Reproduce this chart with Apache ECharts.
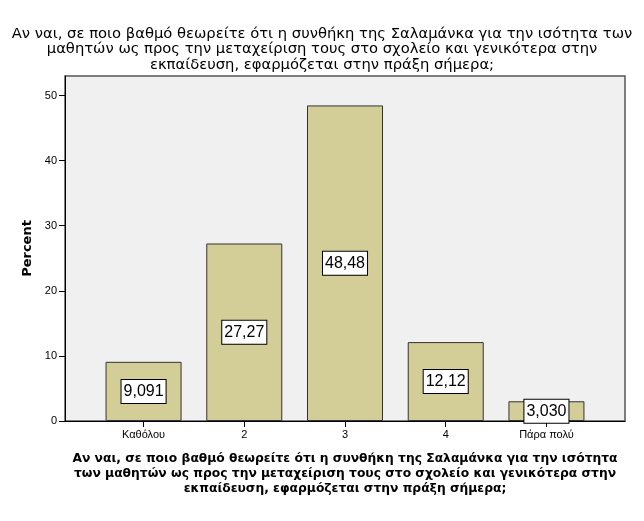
<!DOCTYPE html>
<html>
<head>
<meta charset="utf-8">
<script src="https://cdn.jsdelivr.net/npm/echarts@6/dist/echarts.min.js"></script>
<style>html,body{margin:0;padding:0;background:#fff}#c{width:644px;height:521px}</style>
</head>
<body>
<div id="c"></div>
<script>
var titleText = 'Αν ναι, σε ποιο βαθμό θεωρείτε ότι η συνθήκη της Σαλαμάνκα για την ισότητα των\nμαθητών ως προς την μεταχείριση τους στο σχολείο και γενικότερα στην\nεκπαίδευση, εφαρμόζεται στην πράξη σήμερα;';
var xAxisTitle = 'Αν ναι, σε ποιο βαθμό θεωρείτε ότι η συνθήκη της Σαλαμάνκα για την ισότητα\nτων μαθητών ως προς την μεταχείριση τους στο σχολείο και γενικότερα στην\nεκπαίδευση, εφαρμόζεται στην πράξη σήμερα;';
var categories = ['Καθόλου', '2', '3', '4', 'Πάρα πολύ'];
var percents = [9.091, 27.27, 48.48, 12.12, 3.030];
var yTicks = [0, 10, 20, 30, 40, 50];

var chart = echarts.init(document.getElementById('c'), null, {renderer: 'canvas'});
var catIdx = categories.map(function (c, i) { return i; });
chart.setOption({
  animation: false,
  backgroundColor: '#ffffff',
  textStyle: {fontFamily: 'Liberation Sans, Arial, sans-serif'},
  title: {
    text: titleText,
    left: 'center',
    top: 21,
    textStyle: {fontSize: 14.75, fontWeight: 'normal', color: '#000', lineHeight: 15.5, fontFamily: 'DejaVu Sans, sans-serif'}
  },
  grid: {
    left: 65, right: 19, top: 76, bottom: 100,
    show: true, backgroundColor: '#f0f0f0', borderColor: '#555555', borderWidth: 1.5
  },
  xAxis: {
    type: 'value',
    min: -0.78, max: 4.78,
    splitLine: {show: false},
    axisLine: {show: true, onZero: false, lineStyle: {color: '#000', width: 1}},
    axisTick: {show: true, customValues: catIdx, length: 6, lineStyle: {color: '#000'}},
    axisLabel: {
      customValues: catIdx, fontSize: 11, color: '#000', margin: 8,
      formatter: function (v) { return categories[Math.round(v)]; }
    },
    name: xAxisTitle,
    nameLocation: 'middle',
    nameGap: 30,
    nameTextStyle: {fontSize: 12.3, fontWeight: 'bold', color: '#000', lineHeight: 15, align: 'center', fontFamily: 'DejaVu Sans, sans-serif'}
  },
  yAxis: {
    type: 'value',
    min: 0, max: 53,
    axisLine: {show: true, onZero: false, lineStyle: {color: '#000', width: 1}},
    axisTick: {show: true, customValues: yTicks, length: 6, lineStyle: {color: '#000'}},
    axisLabel: {customValues: yTicks, fontSize: 11, color: '#000', margin: 8},
    splitLine: {show: false},
    name: 'Percent',
    nameLocation: 'middle',
    nameGap: 30,
    nameTextStyle: {fontSize: 13, fontWeight: 'bold', color: '#000', fontFamily: 'DejaVu Sans, sans-serif'}
  },
  series: [{
    type: 'bar',
    barWidth: 76,
    data: percents.map(function (v, i) { return [i, v]; }),
    itemStyle: {color: '#d3ce98', borderColor: '#333333', borderWidth: 1},
    label: {
      show: true,
      position: 'inside',
      formatter: function (p) { return p.value[1].toPrecision(4).replace('.', ','); },
      fontSize: 16,
      color: '#000',
      backgroundColor: '#ffffff',
      borderColor: '#000',
      borderWidth: 1,
      padding: [4, 2, 3, 2]
    }
  }]
});
</script>
</body>
</html>
